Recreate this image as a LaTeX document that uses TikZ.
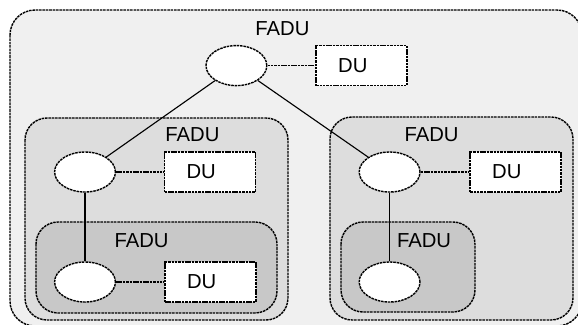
\documentclass[tikz,border=0pt]{standalone}
\usepackage{fontspec}
\setmainfont{Liberation Sans}
\usepackage{tikz}
\usetikzlibrary{shapes.geometric}
\usepackage{xcolor}
\definecolor{outergrey}{HTML}{F0F0F0}
\definecolor{midgrey}{HTML}{DDDDDD}
\definecolor{innergrey}{HTML}{C8C8C8}

\begin{document}
\begin{tikzpicture}[
        font=\fontsize{14.4}{17}\selectfont,
        fine/.style={line width=1pt, dash pattern=on 1.8pt off 0.6pt},
        group/.style={fine, draw=black},
        grplbl/.style={inner sep=0pt},
        fadu/.style={ellipse, fine, draw=black, fill=white,
          minimum width=1.52cm, minimum height=1.0cm, inner sep=0pt},
        dubox/.style={rectangle, fine, draw=black, fill=white,
          minimum height=1.0cm, text width=1.17cm, inner xsep=0.55cm,
          align=left},
        link/.style={line width=0.8pt},
        dulink/.style={fine},
      ]

      \useasboundingbox (0, 0) rectangle (14.45, -8.1);
      \clip (0, 0) rectangle (14.45, -8.1);

      % Outer group
      \filldraw[group, fill=outergrey, rounded corners=0.625cm]
        (0.25, -0.25) rectangle (14.55, -8.15);

      % Second level groups
      \filldraw[group, fill=midgrey, rounded corners=0.55cm]
        (0.625, -2.95) rectangle (7.2, -8.0);
      \filldraw[group, fill=midgrey, rounded corners=0.55cm]
        (8.25, -2.925) rectangle (14.325, -8.0);

      % Third level groups
      \filldraw[group, fill=innergrey, rounded corners=0.55cm]
        (0.9, -5.55) rectangle (6.925, -7.825);
      \filldraw[group, fill=innergrey, rounded corners=0.55cm]
        (8.525, -5.55) rectangle (11.875, -7.8);

      % Group labels
      \node[grplbl] (lbl0) at (7.06, -0.71) {FADU};
      \node[grplbl] (lbl1) at (4.81, -3.36) {FADU};
      \node[grplbl] (lbl2) at (10.79, -3.36) {FADU};
      \node[grplbl] (lbl3) at (3.54, -6.01) {FADU};
      \node[grplbl] (lbl4) at (10.6, -6.01) {FADU};

      % Top level
      \node[fadu] (e0) at (5.91, -1.64) {};
      \node[dubox] (du0) at (9.04, -1.64) {DU};

      % Left branch
      \node[fadu] (e1) at (2.125, -4.3) {};
      \node[dubox] (du1) at (5.25, -4.3) {DU};
      \node[fadu] (e3) at (2.125, -7.05) {};
      \node[dubox] (du3) at (5.26, -7.05) {DU};

      % Right branch
      \node[fadu] (e2) at (9.74, -4.3) {};
      \node[dubox] (du2) at (12.89, -4.3) {DU};
      \node[fadu] (e4) at (9.74, -7.05) {};

      % Links
      \draw[link] (e0) -- (e1);
      \draw[link] (e0) -- (e2);
      \draw[link] (e1) -- (e3);
      \draw[link] (e2) -- (e4);
      \draw[dulink] (e0) -- (du0);
      \draw[dulink] (e1) -- (du1);
      \draw[dulink] (e2) -- (du2);
      \draw[dulink] (e3) -- (du3);

      \end{tikzpicture}
\end{document}
